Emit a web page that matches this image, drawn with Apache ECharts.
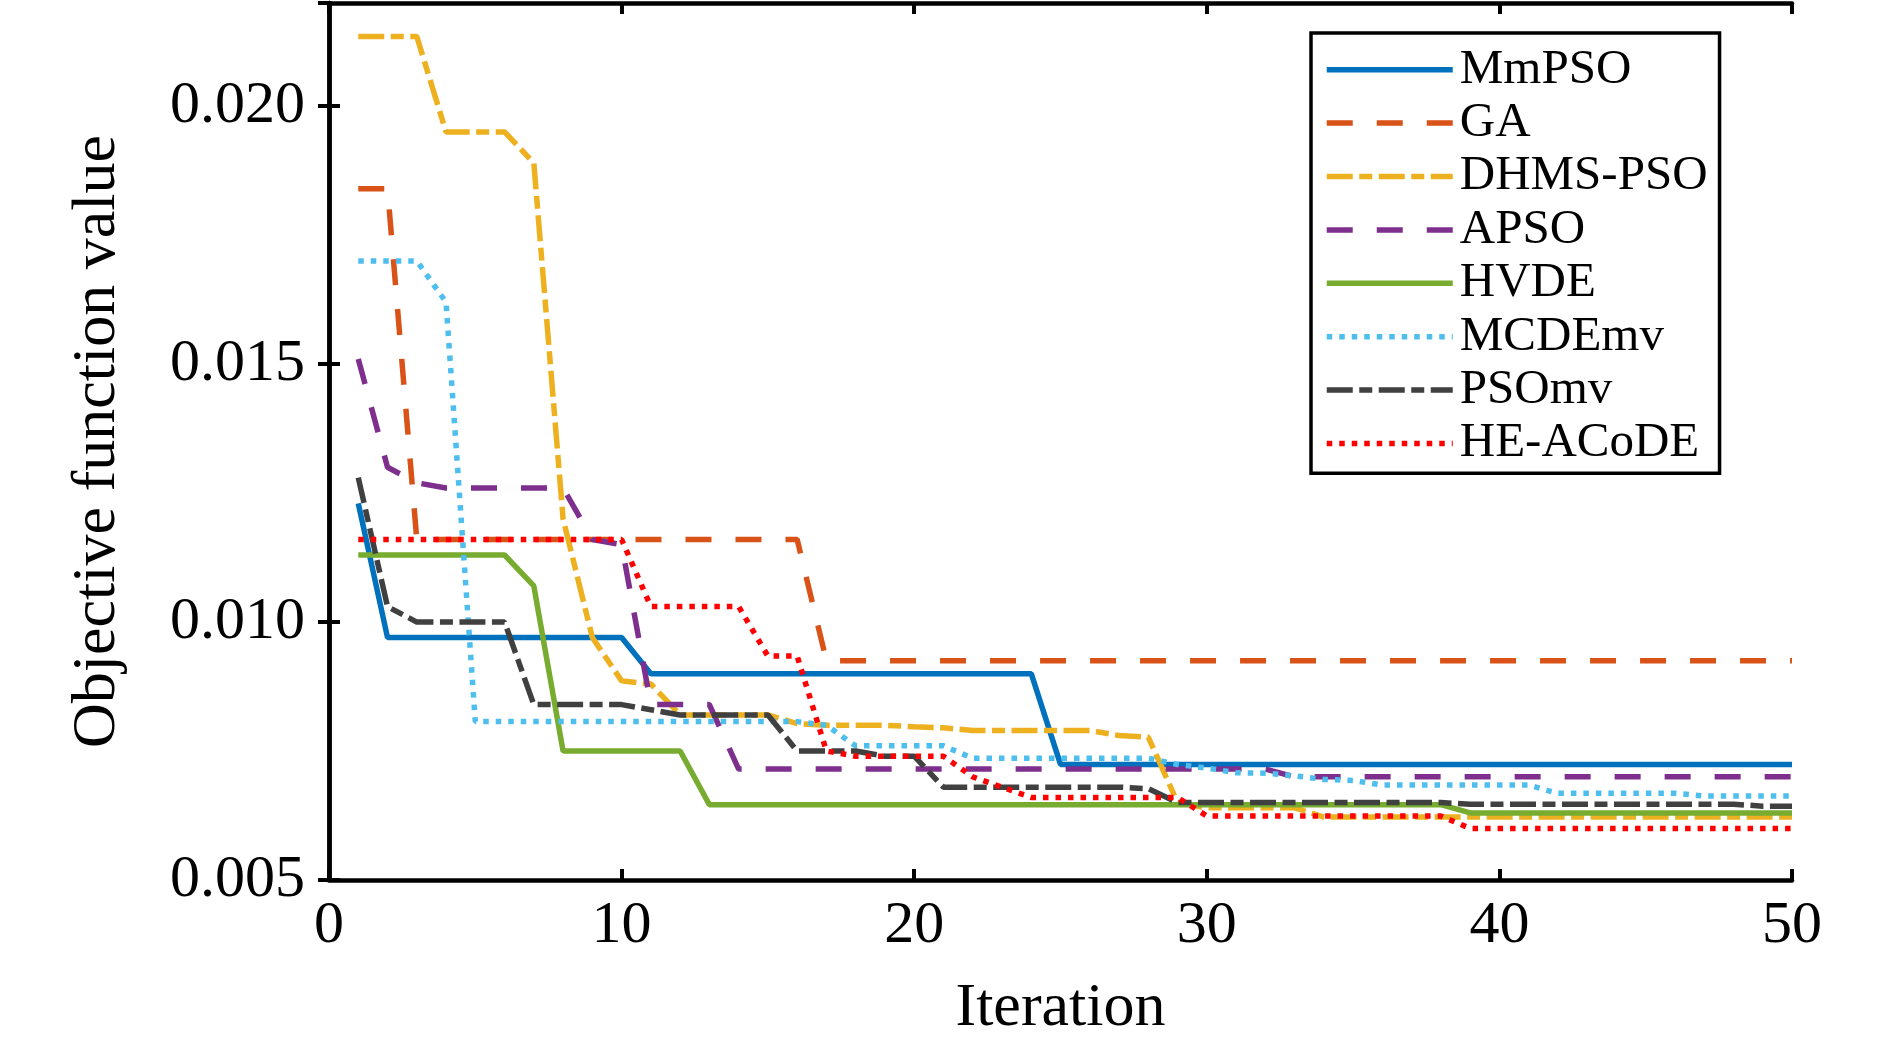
<!DOCTYPE html>
<html lang="en">
<head>
<meta charset="UTF-8">
<title>Convergence curves</title>
<style>
  html, body { margin: 0; padding: 0; background: #fff; }
  #main { width: 1890px; height: 1045px; }
</style>
</head>
<body>
<div id="main"></div>
<script src="https://cdn.jsdelivr.net/npm/echarts@6/dist/echarts.min.js"></script>
<script type="text/javascript">
// iteration numbers (x)
var iterations = [1, 2, 3, 4, 5, 6, 7, 8, 9, 10,
    11, 12, 13, 14, 15, 16, 17, 18, 19, 20,
    21, 22, 23, 24, 25, 26, 27, 28, 29, 30,
    31, 32, 33, 34, 35, 36, 37, 38, 39, 40,
    41, 42, 43, 44, 45, 46, 47, 48, 49, 50];

var xTicks = [0, 10, 20, 30, 40, 50];
var yTicks = [0.005, 0.010, 0.015, 0.020];

// objective value per iteration
var mmPSO = [0.0123, 0.0097, 0.0097, 0.0097, 0.0097, 0.0097, 0.0097, 0.0097, 0.0097, 0.0097,
    0.0090, 0.0090, 0.0090, 0.0090, 0.0090, 0.0090, 0.0090, 0.0090, 0.0090, 0.0090,
    0.0090, 0.0090, 0.0090, 0.0090, 0.00724, 0.00724, 0.00724, 0.00724, 0.00724, 0.00724,
    0.00724, 0.00724, 0.00724, 0.00724, 0.00724, 0.00724, 0.00724, 0.00724, 0.00724, 0.00724,
    0.00724, 0.00724, 0.00724, 0.00724, 0.00724, 0.00724, 0.00724, 0.00724, 0.00724, 0.00724];

var ga = [0.0184, 0.0184, 0.0116, 0.0116, 0.0116, 0.0116, 0.0116, 0.0116, 0.0116, 0.0116,
    0.0116, 0.0116, 0.0116, 0.0116, 0.0116, 0.0116, 0.00925, 0.00925, 0.00925, 0.00925,
    0.00925, 0.00925, 0.00925, 0.00925, 0.00925, 0.00925, 0.00925, 0.00925, 0.00925, 0.00925,
    0.00925, 0.00925, 0.00925, 0.00925, 0.00925, 0.00925, 0.00925, 0.00925, 0.00925, 0.00925,
    0.00925, 0.00925, 0.00925, 0.00925, 0.00925, 0.00925, 0.00925, 0.00925, 0.00925, 0.00925];

var dhmsPSO = [0.02135, 0.02135, 0.02135, 0.0195, 0.0195, 0.0195, 0.0189, 0.0120, 0.0097, 0.00886,
    0.0088, 0.0082, 0.0082, 0.0082, 0.0082, 0.00803, 0.0080, 0.0080, 0.0080, 0.00797,
    0.00795, 0.0079, 0.0079, 0.0079, 0.0079, 0.0079, 0.0078, 0.00777, 0.0065, 0.0064,
    0.0064, 0.0064, 0.0064, 0.00622, 0.00622, 0.00622, 0.00622, 0.00622, 0.00622, 0.00622,
    0.00622, 0.00622, 0.00622, 0.00622, 0.00622, 0.00622, 0.00622, 0.00622, 0.00622, 0.00622];

var apso = [0.0151, 0.0130, 0.0127, 0.0126, 0.0126, 0.0126, 0.0126, 0.0126, 0.0116, 0.0115,
    0.0084, 0.0084, 0.0084, 0.00715, 0.00715, 0.00715, 0.00715, 0.00715, 0.00715, 0.00715,
    0.00715, 0.00715, 0.00715, 0.00715, 0.00715, 0.00715, 0.00715, 0.00715, 0.00715, 0.00715,
    0.00715, 0.00715, 0.0070, 0.0070, 0.0070, 0.0070, 0.0070, 0.0070, 0.0070, 0.0070,
    0.0070, 0.0070, 0.0070, 0.0070, 0.0070, 0.0070, 0.0070, 0.0070, 0.0070, 0.0070];

var hvde = [0.0113, 0.0113, 0.0113, 0.0113, 0.0113, 0.0113, 0.0107, 0.0075, 0.0075, 0.0075,
    0.0075, 0.0075, 0.00646, 0.00646, 0.00646, 0.00646, 0.00646, 0.00646, 0.00646, 0.00646,
    0.00646, 0.00646, 0.00646, 0.00646, 0.00646, 0.00646, 0.00646, 0.00646, 0.00646, 0.00646,
    0.00646, 0.00646, 0.00646, 0.00646, 0.00646, 0.00646, 0.00646, 0.00646, 0.0063, 0.0063,
    0.0063, 0.0063, 0.0063, 0.0063, 0.0063, 0.0063, 0.0063, 0.0063, 0.0063, 0.0063];

var mcdemv = [0.0170, 0.0170, 0.0170, 0.0162, 0.00807, 0.00807, 0.00807, 0.00807, 0.00807, 0.00807,
    0.00807, 0.00807, 0.00807, 0.00807, 0.00807, 0.00807, 0.0080, 0.0076, 0.0076, 0.0076,
    0.0076, 0.00736, 0.00736, 0.00736, 0.00736, 0.00736, 0.00736, 0.00736, 0.00724, 0.00717,
    0.00708, 0.00707, 0.00702, 0.00695, 0.00693, 0.00684, 0.00684, 0.00684, 0.00684, 0.00684,
    0.00684, 0.00668, 0.00668, 0.00668, 0.00668, 0.00668, 0.00663, 0.00663, 0.00663, 0.00663];

var psomv = [0.0128, 0.0103, 0.0100, 0.0100, 0.0100, 0.0100, 0.0084, 0.0084, 0.0084, 0.0084,
    0.0083, 0.0082, 0.0082, 0.0082, 0.0082, 0.0075, 0.0075, 0.0075, 0.0074, 0.0074,
    0.0068, 0.0068, 0.0068, 0.0068, 0.0068, 0.0068, 0.0068, 0.00677, 0.0065, 0.0065,
    0.0065, 0.0065, 0.0065, 0.0065, 0.0065, 0.0065, 0.0065, 0.0065, 0.00647, 0.00647,
    0.00647, 0.00647, 0.00647, 0.00647, 0.00647, 0.00647, 0.00647, 0.00647, 0.00643, 0.00643];

var heACoDE = [0.0116, 0.0116, 0.0116, 0.0116, 0.0116, 0.0116, 0.0116, 0.0116, 0.0116, 0.0116,
    0.0103, 0.0103, 0.0103, 0.0103, 0.00934, 0.00934, 0.0075, 0.0074, 0.0074, 0.0074,
    0.0074, 0.0070, 0.0068, 0.0066, 0.0066, 0.0066, 0.0066, 0.0066, 0.0066, 0.00624,
    0.00624, 0.00624, 0.00624, 0.00624, 0.00624, 0.00624, 0.00624, 0.00624, 0.0060, 0.0060,
    0.0060, 0.0060, 0.0060, 0.0060, 0.0060, 0.0060, 0.0060, 0.0060, 0.0060, 0.0060];

var FONT = 'Liberation Serif, Times New Roman, serif';

function pairs(vals) {
    return vals.map(function (v, i) { return [iterations[i], v]; });
}

function curve(name, vals, color, dash) {
    return {
        name: name,
        type: 'line',
        data: pairs(vals),
        symbol: 'none',
        lineStyle: { color: color, width: 5.5, type: dash, cap: 'butt' },
        itemStyle: { color: color },
        emphasis: { disabled: true }
    };
}

var DASHED = [26, 24];
var DASHDOT = [26, 6.5, 13, 6.5];
var DOTTED = [5.5, 7];

var boxAxis = {
    axisLine: { show: true, lineStyle: { color: '#000', width: 4.5 } },
    axisTick: { show: true, inside: true, length: 11, lineStyle: { color: '#000', width: 4 } },
    splitLine: { show: false }
};

var myChart = echarts.init(document.getElementById('main'));

var option = {
    animation: false,
    backgroundColor: '#fff',
    grid: { left: 329, right: 98, top: 3, bottom: 162 },
    legend: {
        orient: 'vertical',
        left: 1311,
        top: 33,
        padding: [10, 12, 3, 13],
        itemGap: 0,
        itemWidth: 126,
        itemHeight: 16,
        backgroundColor: '#fff',
        borderColor: '#000',
        borderWidth: 3.5,
        lineStyle: { width: 5.5 },
        itemStyle: { opacity: 0 },
        textStyle: { fontFamily: FONT, fontSize: 49, color: '#000', lineHeight: 53.4, padding: [0, 0, 0, 2] },
        data: ['MmPSO', 'GA', 'DHMS-PSO', 'APSO', 'HVDE', 'MCDEmv', 'PSOmv', 'HE-ACoDE']
    },
    xAxis: [
        Object.assign({}, boxAxis, {
            type: 'value', position: 'bottom',
            min: xTicks[0], max: xTicks[xTicks.length - 1], interval: 10,
            name: 'Iteration', nameLocation: 'middle', nameGap: 98,
            nameTextStyle: { fontFamily: FONT, fontSize: 62, color: '#000' },
            axisLabel: { fontFamily: FONT, fontSize: 60, color: '#000', margin: 16 }
        }),
        Object.assign({}, boxAxis, {
            type: 'value', position: 'top',
            min: xTicks[0], max: xTicks[xTicks.length - 1], interval: 10,
            axisLabel: { show: false }
        })
    ],
    yAxis: [
        Object.assign({}, boxAxis, {
            type: 'value', position: 'left',
            min: yTicks[0], max: 0.022, interval: 0.005,
            name: 'Objective function value', nameLocation: 'middle', nameGap: 200,
            nameTextStyle: { fontFamily: FONT, fontSize: 62, color: '#000' },
            axisLabel: {
                fontFamily: FONT, fontSize: 60, color: '#000', margin: 24,
                showMaxLabel: false,
                formatter: function (v) { return v.toFixed(3); }
            }
        }),
        Object.assign({}, boxAxis, {
            type: 'value', position: 'right',
            min: yTicks[0], max: 0.022, interval: 0.005,
            axisLabel: { show: false }
        })
    ],
    series: [
        curve('MmPSO', mmPSO, '#0072BD', 'solid'),
        curve('GA', ga, '#D95319', DASHED),
        curve('DHMS-PSO', dhmsPSO, '#EDB120', DASHDOT),
        curve('APSO', apso, '#7E2F8E', DASHED),
        curve('HVDE', hvde, '#77AC30', 'solid'),
        curve('MCDEmv', mcdemv, '#4DBEEE', DOTTED),
        curve('PSOmv', psomv, '#404040', DASHDOT),
        curve('HE-ACoDE', heACoDE, '#FF0000', DOTTED)
    ]
};

myChart.setOption(option);
</script>
</body>
</html>
